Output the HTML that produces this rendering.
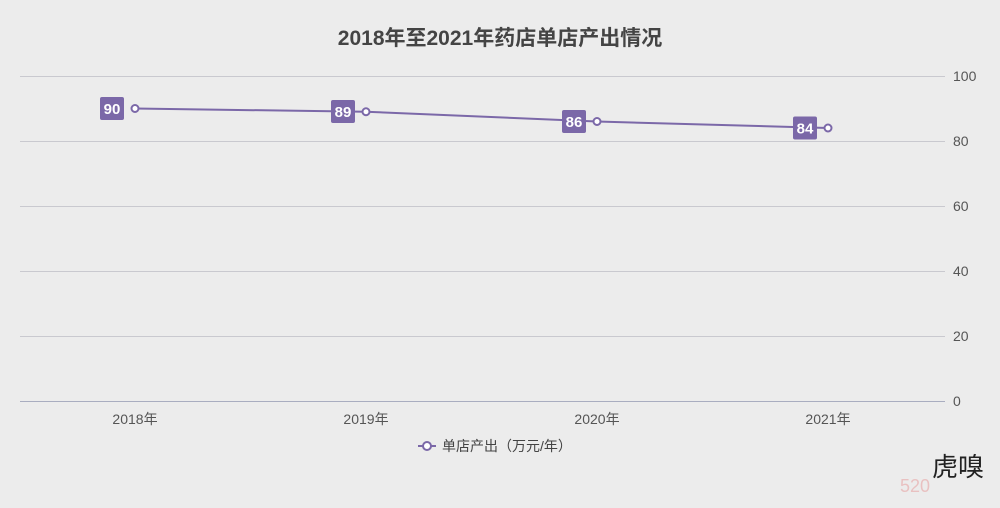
<!DOCTYPE html>
<html><head><meta charset="utf-8"><style>
html,body{margin:0;padding:0;background:#ececec;}
svg{display:block;}
text{font-family:"Liberation Sans","Noto Sans CJK SC",sans-serif;}
</style></head><body>
<svg width="1000" height="508" viewBox="0 0 1000 508">
<rect width="1000" height="508" fill="#ececec"/>
<text x="500" y="45" text-anchor="middle" font-size="21" font-weight="bold" fill="#444">2018年至2021年药店单店产出情况</text>
<g stroke="#c9c9cf" stroke-width="1">
<line x1="20" x2="945" y1="76.5" y2="76.5"/>
<line x1="20" x2="945" y1="141.5" y2="141.5"/>
<line x1="20" x2="945" y1="206.5" y2="206.5"/>
<line x1="20" x2="945" y1="271.5" y2="271.5"/>
<line x1="20" x2="945" y1="336.5" y2="336.5"/>
</g>
<line x1="20" x2="945" y1="401.5" y2="401.5" stroke="#a9adc0" stroke-width="1"/>
<g font-size="14" fill="#555">
<text x="953" y="81">100</text>
<text x="953" y="146">80</text>
<text x="953" y="211">60</text>
<text x="953" y="276">40</text>
<text x="953" y="341">20</text>
<text x="953" y="406">0</text>
</g>
<g font-size="14" fill="#555" text-anchor="middle">
<text x="135" y="424">2018年</text>
<text x="366" y="424">2019年</text>
<text x="597" y="424">2020年</text>
<text x="828" y="424">2021年</text>
</g>
<polyline points="135,108.5 366,111.75 597,121.5 828,128" fill="none" stroke="#7b68a8" stroke-width="2"/>
<g fill="#fff" stroke="#7b68a8" stroke-width="2">
<circle cx="135" cy="108.5" r="3.5"/>
<circle cx="366" cy="111.75" r="3.5"/>
<circle cx="597" cy="121.5" r="3.5"/>
<circle cx="828" cy="128" r="3.5"/>
</g>
<g fill="#7b68a8">
<rect x="100" y="97" width="24" height="23" rx="2"/>
<rect x="331" y="100" width="24" height="23" rx="2"/>
<rect x="562" y="110" width="24" height="23" rx="2"/>
<rect x="793" y="116.5" width="24" height="23" rx="2"/>
</g>
<g font-size="15" fill="#fff" text-anchor="middle" font-weight="bold">
<text x="112" y="114">90</text>
<text x="343" y="117">89</text>
<text x="574" y="127">86</text>
<text x="805" y="133.5">84</text>
</g>
<line x1="418" x2="436" y1="446" y2="446" stroke="#7b68a8" stroke-width="2"/>
<circle cx="427" cy="446" r="4" fill="#fff" stroke="#7b68a8" stroke-width="2"/>
<text x="442" y="451" font-size="14" fill="#444">单店产出（万元/年）</text>
<text x="932" y="476" font-size="26" fill="#222" font-family="Liberation Serif,Noto Serif CJK SC,serif">虎嗅</text>
<text x="900" y="492" font-size="18" fill="#e8b0b0" opacity="0.7">520</text>
</svg>
</body></html>
